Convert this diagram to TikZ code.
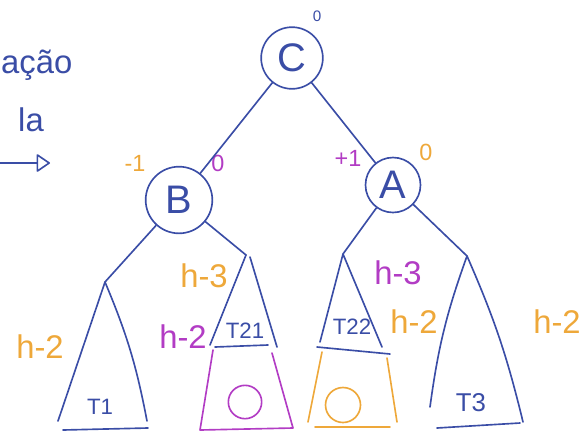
\documentclass[tikz,border=0pt]{standalone}
\usepackage{fontspec}
\setmainfont{Liberation Sans}
\usepackage{tikz}
\usetikzlibrary{arrows.meta, positioning, calc}
\definecolor{inkBlue}{HTML}{3A4DA6}
\definecolor{inkOrange}{HTML}{EEA83A}
\definecolor{inkPurple}{HTML}{B23CC4}

\begin{document}
\begin{tikzpicture}[x=0.03cm, y=-0.03cm,
    knot/.style={circle, draw=inkBlue, line width=1.4pt, inner sep=0pt, text=inkBlue,
      font=\fontsize{34}{36}\selectfont},
    hlab/.style={font=\fontsize{28}{30}\selectfont},
    tlab/.style={font=\fontsize{19}{21}\selectfont, text=inkBlue},
    bal/.style={font=\fontsize{20}{22}\selectfont},
    ink/.style={line width=1.4pt, line cap=round, line join=round}
  ]
  \useasboundingbox (0,0) rectangle (588,435);

  % note on the left, cut at the border
  \node[font=\fontsize{28}{30}\selectfont, text=inkBlue, anchor=west, inner sep=0pt] (note1) at (1,65) {ação};
  \node[font=\fontsize{28}{30}\selectfont, text=inkBlue, anchor=west, inner sep=0pt] (note2) at (18,120) {la};
  \coordinate (noteS) at (0,163);
  \coordinate (noteE) at (50,163);
  \draw[ink, inkBlue, -{Triangle[open, length=12pt, width=16pt, round]}] (noteS) -- (noteE);

  % nodes
  \node[knot, minimum size=1.85cm] (C) at (292,58) {C};
  \node[knot, minimum size=2.0cm] (B) at (179,200) {B};
  \node[knot, minimum size=1.65cm] (A) at (393,185) {A};

  \node[text=inkBlue, font=\fontsize{13}{14}\selectfont] (balC) at (317,16) {0};
  \node[bal, text=inkOrange] (balBo) at (135,163) {-1};
  \node[bal, text=inkPurple] (balBp) at (218,163) {0};
  \node[bal, text=inkPurple] (balAp) at (348,158) {+1};
  \node[bal, text=inkOrange] (balAo) at (426,152) {0};

  \draw[ink, inkBlue] (C) -- (B);
  \draw[ink, inkBlue] (C) -- (A);

  % subtree apexes
  \coordinate (t1) at (105,282);
  \coordinate (t21) at (246,255);
  \coordinate (t22) at (343,254);
  \coordinate (t3) at (467,256);
  \draw[ink, inkBlue] (B) -- (t1);
  \draw[ink, inkBlue] (B) -- (t21);
  \draw[ink, inkBlue] (A) -- (t22);
  \draw[ink, inkBlue] (A) -- (t3);

  % T1
  \draw[ink, inkBlue] (58,421) -- (t1) to[bend left=6] (147,421);
  \draw[ink, inkBlue] (63,430) -- (148,428);
  \node[tlab] (T1) at (100,407) {T1};
  % T21
  \draw[ink, inkBlue] (210,345) -- (t21);
  \draw[ink, inkBlue] (250,257) -- (277,347);
  \draw[ink, inkBlue] (215,347) -- (268,345);
  \node[tlab] (T21) at (245,331) {T21};
  % T22
  \draw[ink, inkBlue] (320,342) -- (t22) -- (382,347);
  \draw[ink, inkBlue] (317,347) -- (390,354);
  \node[tlab] (T22) at (352,327) {T22};
  % T3
  \draw[ink, inkBlue] (430,407) to[bend left=6] (t3) to[bend left=5] (523,422);
  \draw[ink, inkBlue] (437,428) -- (520,423);
  \node[tlab, font=\fontsize{22}{24}\selectfont] (T3) at (471,403) {T3};

  % new levels
  \draw[ink, inkPurple] (213,350) -- (200,430) -- (293,428) -- (272,353);
  \node[circle, draw=inkPurple, line width=1.4pt, minimum size=1.0cm] (newP) at (245,402) {};
  \draw[ink, inkOrange] (322,352) -- (308,422);
  \draw[ink, inkOrange] (315,427) -- (390,427);
  \draw[ink, inkOrange] (387,358) -- (397,422);
  \node[circle, draw=inkOrange, line width=1.4pt, minimum size=1.05cm] (newO) at (343,405) {};

  % heights
  \node[hlab, text=inkOrange] (h1) at (40,347) {h-2};
  \node[hlab, text=inkOrange] (h2) at (204,276) {h-3};
  \node[hlab, text=inkPurple] (h3) at (183,337) {h-2};
  \node[hlab, text=inkPurple] (h4) at (398,273) {h-3};
  \node[hlab, text=inkOrange] (h5) at (414,322) {h-2};
  \node[hlab, text=inkOrange] (h6) at (557,322) {h-2};
\end{tikzpicture}
\end{document}
